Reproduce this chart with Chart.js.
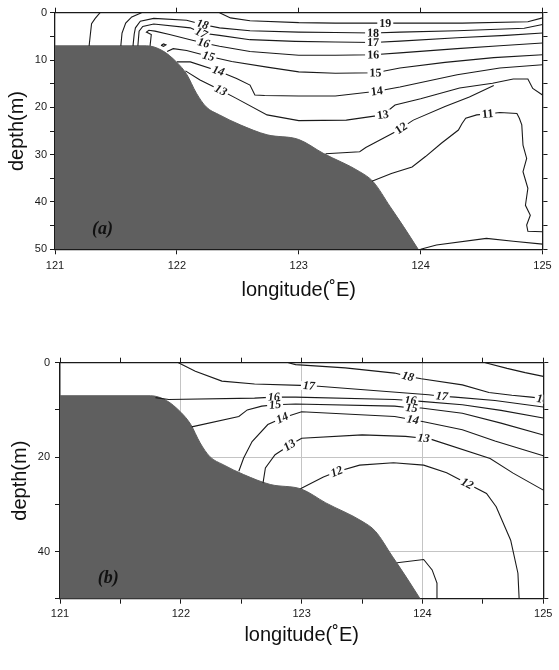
<!DOCTYPE html>
<html>
<head>
<meta charset="utf-8">
<script src="https://cdn.jsdelivr.net/npm/chart.js@4.4.1/dist/chart.umd.min.js"></script>
<style>
body { margin: 0; background: #fff; width: 559px; height: 670px; position: relative; overflow: hidden; }
canvas { position: absolute; left: 0; }
#chartA { top: 0; }
#chartB { top: 335px; }
</style>
</head>
<body>
<canvas id="chartA" width="559" height="335"></canvas>
<canvas id="chartB" width="559" height="335"></canvas>
<script>
// sea bed (same section for both panels)
var bedLon   = [121, 121.75, 121.88, 122.0, 122.08, 122.16, 122.24, 122.35, 122.52, 122.74, 123.0, 123.2, 123.5, 123.61, 123.75, 123.86, 123.98];
var bedDepth = [7, 7, 8, 10.5, 13, 17, 19.9, 21.6, 23.7, 25.8, 26.8, 29.7, 33.6, 35.7, 41, 45.2, 50];

// ************************ panel (a) isotherms: [lon, depth] ************************
var a20a = [[121.37,0],[121.33,1.2],[121.30,2.3],[121.29,4.6],[121.28,7]];
var a20b = [[121.71,0],[121.63,0.9],[121.58,2.2],[121.55,4.3],[121.54,7]];
var a19 = [[122.35,0],[122.44,1.1],[122.6,1.7],[123.0,2.1],[123.3,2.2],[123.71,2.2],[124.34,2.2],[124.88,1.9],[125,1.1]];
var a18 = [[121.64,7],[121.65,4.5],[121.66,3.2],[121.70,1.8],[121.81,1.2],[122.08,1.6],[122.21,2.5],[122.35,3.2],[122.6,3.8],[123.0,4.1],[123.3,4.2],[123.61,4.3],[123.83,4.1],[124.3,3.8],[124.85,3.3],[125,2.5]];
var a17 = [[121.68,7],[121.69,3.9],[121.72,2.9],[121.81,2.4],[122.11,3.2],[122.2,4.3],[122.35,4.8],[122.6,5.7],[122.97,6.05],[123.3,6.2],[123.61,6.3],[123.83,6.0],[124.3,5.3],[124.7,4.8],[125,4.3]];
var a16 = [[121.78,7],[121.79,4.6],[121.75,4.1],[121.77,3.7],[121.82,3.9],[121.94,4.6],[122.11,5.7],[122.22,6.4],[122.35,7.1],[122.6,8.2],[123.0,9.0],[123.3,9.0],[123.61,8.9],[123.83,8.5],[124.3,7.6],[124.65,7.0],[125,6.4]];
var a15 = [[121.92,8.2],[121.97,7.6],[122.08,8.0],[122.26,9.2],[122.45,10.3],[122.74,11.5],[123.0,12.5],[123.3,12.8],[123.63,12.7],[123.83,11.7],[124.2,10.5],[124.6,9.5],[125,8.9]];
var a15s = [[121.87,6.9],[121.89,6.6],[121.91,6.8],[121.89,7.1],[121.87,6.9]];
var a14 = [[122.0,10.4],[122.11,10.4],[122.34,12.3],[122.49,13.9],[122.6,15.3],[122.64,17.4],[122.72,17.5],[123.0,17.6],[123.3,17.6],[123.64,16.6],[123.83,15.7],[124.3,13.1],[124.65,11.7],[125,11]];
var a13 = [[122.07,12.3],[122.19,14.2],[122.36,16.4],[122.48,18.0],[122.74,21.6],[123.0,22.8],[123.39,22.7],[123.69,21.6],[123.79,19.5],[124.0,18.2],[124.32,15.9],[124.59,14.9],[124.76,14.0],[124.88,14.0],[124.92,16.0],[125,17.4]];
var a12 = [[123.22,29.8],[123.5,29.4],[123.55,28.5],[123.79,25.2],[123.84,24.4],[123.94,22.7],[124.2,19.8],[124.4,17.8],[124.6,15.4]];
var a11 = [[123.6,35.6],[123.76,34],[123.93,32.6],[124.04,30.4],[124.17,27.6],[124.31,24.8],[124.34,23.4],[124.37,22.3],[124.46,21.6],[124.55,21.4],[124.65,21.1],[124.79,21.3],[124.81,22.3],[124.83,23.7],[124.84,28],[124.87,30.8],[124.84,33.6],[124.88,37.1],[124.86,40.7],[124.9,42.8],[124.87,44.9],[124.88,46.2],[125,46.3]];
var a10 = [[124.0,50],[124.13,49.1],[124.54,47.7],[124.76,48.3],[125,48.9]];
var labelsA = [['18',122.21,2.5],['17',122.2,4.3],['16',122.22,6.4],['15',122.26,9.2],['14',122.34,12.3],['13',122.36,16.4],
               ['19',123.71,2.2],['18',123.61,4.3],['17',123.61,6.3],['16',123.61,8.9],['15',123.63,12.7],['14',123.64,16.6],
               ['13',123.69,21.6],['12',123.84,24.4],['11',124.55,21.4]];

// ************************ panel (b) isotherms ************************
var b19 = [[124.52,0],[124.7,1.2],[124.85,2.1],[125,2.9]];
var b18 = [[122.89,0],[122.95,0.4],[123.36,1.1],[123.77,2.2],[123.88,2.9],[123.99,3.4],[124.33,4.7],[124.55,6.3],[124.74,6.9],[124.9,7.3],[125,7.6]];
var b17 = [[121.98,0],[122.12,1.8],[122.34,3.9],[122.61,4.5],[122.99,4.8],[123.06,4.9],[123.14,5.0],[124.05,6.8],[124.16,7.1],[124.27,7.3],[124.6,8.0],[125,9.4]];
var b16 = [[121.79,7.4],[121.9,7.8],[122.61,7.5],[122.77,7.3],[122.95,7.3],[123.77,7.8],[123.9,8.0],[123.99,8.2],[124.33,8.9],[124.65,10.1],[125,11.7]];
var b15 = [[122.09,13.6],[122.48,11.4],[122.55,10.0],[122.67,9.2],[122.78,8.9],[122.95,8.75],[123.77,9.2],[123.91,9.6],[123.99,9.6],[124.33,10.7],[124.65,12.8],[125,15.3]];
var b14 = [[122.48,23.0],[122.52,20.2],[122.59,16.7],[122.72,13.1],[122.84,11.7],[123.0,10.4],[123.77,11.4],[123.92,12.1],[124.01,12.5],[124.33,14.2],[124.6,16.6],[125,19.7]];
var b13 = [[122.68,25.5],[122.7,22.3],[122.78,19.5],[122.9,17.5],[123.0,16.0],[123.5,15.3],[123.86,15.6],[124.01,16.0],[124.08,16.3],[124.56,20.3],[124.75,23.4],[125,27]];
var b12 = [[122.99,26.7],[123.18,24.2],[123.29,23.1],[123.48,21.7],[123.76,21.2],[124.01,21.7],[124.2,23.3],[124.37,25.6],[124.53,27.7],[124.61,30.5],[124.73,37.6],[124.79,44.6],[124.8,50]];
var b11 = [[123.79,42.4],[124.01,41.7],[124.08,43.9],[124.12,46.7],[124.12,49.9],[124.15,50]];
var labelsB = [['18',123.88,2.9],['17',123.06,4.9],['17',124.16,7.1],['16',122.77,7.3],['16',123.9,8.0],['15',122.78,8.9],
               ['15',123.91,9.6],['14',122.84,11.7],['14',123.92,12.1],['13',122.9,17.5],['13',124.01,16.0],
               ['12',123.29,23.1],['12',124.37,25.6],['18',124.995,7.7]];

var ink = '#1a1a1a';

function iso(pts, level) {
    return {
        data: pts.map(function (p) { return {x: p[0], y: p[1]}; }),
        level: level,
        borderColor: ink,
        borderWidth: 1.1,
        pointRadius: 0,
        pointHoverRadius: 0,
        tension: 0,
        fill: false,
        order: 1
    };
}

function bed() {
    return {
        data: bedLon.map(function (x, i) { return {x: x, y: bedDepth[i]}; }),
        borderColor: '#5f5f5f',
        backgroundColor: '#5f5f5f',
        borderWidth: 1,
        pointRadius: 0,
        cubicInterpolationMode: 'monotone',
        fill: {value: 50},
        order: 5
    };
}

// contour labels along the lines + panel tag
function labelPlugin(labels, tag, italicBelow) {
    return {
        id: 'contourLabels',
        afterDatasetsDraw: function (chart) {
            var ctx = chart.ctx, ca = chart.chartArea;
            var sx = chart.scales.x, sy = chart.scales.y;
            ctx.save();
            ctx.beginPath();
            ctx.rect(ca.left, ca.top, ca.right - ca.left, ca.bottom - ca.top);
            ctx.clip();
            ctx.textAlign = 'center';
            ctx.textBaseline = 'middle';
            labels.forEach(function (l) {
                var px = sx.getPixelForValue(l[1]), py = sy.getPixelForValue(l[2]);
                var best = Infinity, ang = 0;
                chart.data.datasets.forEach(function (ds) {
                    if (ds.level !== Number(l[0])) return;
                    for (var i = 1; i < ds.data.length; i++) {
                        var x1 = sx.getPixelForValue(ds.data[i - 1].x), y1 = sy.getPixelForValue(ds.data[i - 1].y);
                        var x2 = sx.getPixelForValue(ds.data[i].x), y2 = sy.getPixelForValue(ds.data[i].y);
                        var dx = x2 - x1, dy = y2 - y1;
                        var t = ((px - x1) * dx + (py - y1) * dy) / (dx * dx + dy * dy || 1);
                        t = Math.max(0, Math.min(1, t));
                        var d = Math.hypot(x1 + t * dx - px, y1 + t * dy - py);
                        if (d < best) { best = d; ang = Math.atan2(dy, dx); }
                    }
                });
                if (ang > Math.PI / 2) ang -= Math.PI;
                if (ang < -Math.PI / 2) ang += Math.PI;
                ctx.save();
                ctx.translate(px, py);
                ctx.rotate(ang);
                ctx.font = (l[1] < italicBelow ? 'italic ' : '') + 'bold 12px "Liberation Serif"';
                var w = ctx.measureText(l[0]).width + 4;
                ctx.fillStyle = '#fff';
                ctx.fillRect(-w / 2, -4.5, w, 9);
                ctx.fillStyle = ink;
                ctx.fillText(l[0], 0, 0.5);
                ctx.restore();
            });
            ctx.font = 'italic bold 18px "Liberation Serif"';
            ctx.fillStyle = '#111';
            ctx.fillText(tag[0], sx.getPixelForValue(tag[1]), sy.getPixelForValue(tag[2]));
            ctx.restore();
        }
    };
}

function axes(p) {
    var edge = {color: ink, width: 1.3};
    var tickFont = {family: 'Liberation Sans', size: 11};
    var none = function () { return ''; };
    var clear = 'rgba(0,0,0,0)';
    return {
        x: {
            type: 'linear', min: 121, max: 125,
            afterFit: function (s) { s.height = p.bottom; },
            ticks: {stepSize: p.xStep, autoSkip: false, maxRotation: 0, padding: p.xPad, font: tickFont, color: ink,
                    callback: function (v) { return Number.isInteger(v) ? String(v) : ''; }},
            grid: {drawOnChartArea: p.grid, tickColor: ink, tickLength: 5,
                   color: function (c) { return c.tick && Number.isInteger(c.tick.value) ? '#c4c4c4' : clear; }},
            border: edge,
            title: {display: true, text: 'longitude(˚E)', color: '#111',
                    font: {family: 'Liberation Sans', size: 20}, padding: {top: 0, bottom: p.xTitle}}
        },
        x2: {
            type: 'linear', position: 'top', min: 121, max: 125,
            afterFit: function (s) { s.height = p.top; },
            ticks: {stepSize: p.xStep, autoSkip: false, maxRotation: 0, callback: none},
            grid: {drawOnChartArea: false, tickColor: ink, tickLength: 5},
            border: edge
        },
        y: {
            type: 'linear', reverse: true, min: 0, max: 50,
            afterFit: function (s) { s.width = p.left; },
            ticks: {stepSize: p.yStep, autoSkip: false, padding: p.yPad, font: tickFont, color: ink,
                    callback: function (v) { return p.yLabels.indexOf(v) >= 0 ? String(v) : ''; }},
            grid: {drawOnChartArea: p.grid, tickColor: ink, tickLength: 5,
                   color: function (c) { return c.tick && c.tick.value % 20 === 0 ? '#c4c4c4' : clear; }},
            border: edge,
            title: {display: true, text: 'depth(m)', color: '#111',
                    font: {family: 'Liberation Sans', size: 20}, padding: {top: p.yTitle, bottom: 0}}
        },
        y2: {
            type: 'linear', position: 'right', reverse: true, min: 0, max: 50,
            afterFit: function (s) { s.width = p.right; },
            ticks: {stepSize: p.yStep, autoSkip: false, callback: none},
            grid: {drawOnChartArea: false, tickColor: ink, tickLength: 5},
            border: edge
        }
    };
}

function opts(scales) {
    return {
        responsive: false,
        devicePixelRatio: 1,
        animation: false,
        layout: {padding: 0},
        plugins: {legend: {display: false}, tooltip: {enabled: false}},
        scales: scales
    };
}

// ************************ gráfico (a) ************************
var chartA = new Chart(document.getElementById('chartA').getContext('2d'), {
    type: 'line',
    data: {datasets: [
        iso(a20a, 20), iso(a20b, 20), iso(a19, 19), iso(a18, 18), iso(a17, 17), iso(a16, 16),
        iso(a15, 15), iso(a15s, 15), iso(a14, 14), iso(a13, 13), iso(a12, 12), iso(a11, 11), iso(a10, 10),
        bed()
    ]},
    options: opts(axes({top: 12.7, bottom: 85.7, left: 55, right: 16.5, xStep: 1, yStep: 5,
                        yLabels: [0, 10, 20, 30, 40, 50], grid: false, xPad: 5, yPad: 3, xTitle: 33, yTitle: 5})),
    plugins: [labelPlugin(labelsA, ['(a)', 121.39, 45.8], 123)]
});

// ************************ gráfico (b) ************************
var chartB = new Chart(document.getElementById('chartB').getContext('2d'), {
    type: 'line',
    data: {datasets: [
        iso(b19, 19), iso(b18, 18), iso(b17, 17), iso(b16, 16), iso(b15, 15), iso(b14, 14),
        iso(b13, 13), iso(b12, 12), iso(b11, 11),
        bed()
    ]},
    options: opts(axes({top: 27.7, bottom: 71.3, left: 60, right: 15.7, xStep: 0.5, yStep: 10,
                        yLabels: [0, 20, 40], grid: true, xPad: 4, yPad: 5, xTitle: 23, yTitle: 8})),
    plugins: [labelPlugin(labelsB, ['(b)', 121.4, 45.6], 999)]
});
</script>
</body>
</html>
